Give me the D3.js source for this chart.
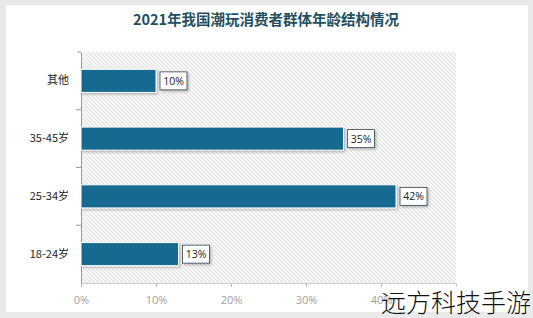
<!DOCTYPE html>
<html>
<head>
<meta charset="utf-8">
<script src="https://cdn.jsdelivr.net/npm/d3@7"></script>
<style>
  body { margin: 0; background: #e9e9e9; }
  svg { display: block; }
</style>
</head>
<body>
<div id="chart"></div>
<script>
// 数据
let categories = ['其他', '35-45岁', '25-34岁', '18-24岁'];
let values = [10, 35, 42, 13];
let xTicks = [0, 10, 20, 30, 40];

let W = 533, H = 318;
let svg = d3.select('#chart').append('svg').attr('width', W).attr('height', H);

// 背景卡片
svg.append('rect').attr('width', W).attr('height', H).attr('fill', '#e9e9e9');
svg.append('rect').attr('x', 6).attr('y', 5).attr('width', 522).attr('height', 307).attr('fill', '#ffffff');

// 斜线底纹
let defs = svg.append('defs');
let pat = defs.append('pattern').attr('id', 'hatch')
    .attr('patternUnits', 'userSpaceOnUse').attr('width', 4).attr('height', 4);
pat.append('rect').attr('width', 4).attr('height', 4).attr('fill', '#f6f6f6');
pat.append('path').attr('d', 'M-1,-1 L5,5 M-1,3 L1,5 M3,-1 L5,1')
    .attr('stroke', '#d9d9d9').attr('stroke-width', 0.8);
let sh = defs.append('filter').attr('id', 'shadow').attr('x', '-20%').attr('y', '-20%').attr('width', '150%').attr('height', '150%');
sh.append('feDropShadow').attr('dx', 1.5).attr('dy', 1.5).attr('stdDeviation', 1).attr('flood-color', '#000').attr('flood-opacity', 0.25);

// 标题
svg.append('text').attr('x', 266).attr('y', 25).attr('text-anchor', 'middle')
    .attr('font-family', '"Noto Sans CJK SC", sans-serif').attr('font-weight', 'bold')
    .attr('font-size', 14.5).attr('fill', '#1f4f60')
    .text('2021年我国潮玩消费者群体年龄结构情况');

// 绘图区
let pL = 81, pR = 456, pT = 52, pB = 283;
let xScale = d3.scaleLinear().domain([0, 50]).range([pL, pR]);
let yScale = d3.scaleBand().domain(categories).range([pT, pB]).paddingInner(0.6).paddingOuter(0.3);
let yBand = d3.scaleBand().domain(categories).range([pT, pB]);

svg.append('rect').attr('x', pL).attr('y', pT).attr('width', pR - pL).attr('height', pB - pT)
    .attr('fill', 'url(#hatch)');

// x轴
let xAxis = svg.append('g').attr('transform', 'translate(0,' + pB + ')')
    .call(d3.axisBottom(xScale).tickValues(xTicks).tickSize(4).tickFormat(d => d + '%'));
xAxis.select('.domain').attr('stroke', '#cccccc');
xAxis.selectAll('.tick line').attr('stroke', '#bbbbbb');
xAxis.selectAll('.tick text').attr('fill', '#a0a0a0').attr('font-size', 11)
    .attr('font-family', '"Open Sans", sans-serif').attr('dy', '1.25em');

// y轴
let yAxis = svg.append('g').attr('transform', 'translate(' + pL + ',0)')
    .call(d3.axisLeft(yScale).tickSize(0).tickPadding(12));
yAxis.select('.domain').attr('stroke', '#999999');
yAxis.selectAll('.tick text').attr('fill', '#222').attr('font-size', 11)
    .attr('font-family', '"Noto Sans CJK SC", sans-serif');
// 分类边界刻度
svg.append('g').selectAll('line').data(categories.slice(1)).enter().append('line')
    .attr('x1', pL - 5).attr('x2', pL)
    .attr('y1', d => yBand(d)).attr('y2', d => yBand(d))
    .attr('stroke', '#999999');
svg.append('line').attr('x1', pL - 4).attr('x2', pL).attr('y1', pT).attr('y2', pT).attr('stroke', '#999');

// 条形
let bars = svg.append('g').selectAll('g').data(categories).enter().append('g');
bars.append('rect')
    .attr('x', pL)
    .attr('y', d => yScale(d))
    .attr('width', (d, i) => xScale(values[i]) - pL)
    .attr('height', yScale.bandwidth())
    .attr('fill', '#17698f')
    .attr('stroke', '#ffffff').attr('stroke-width', 1)
    .attr('filter', 'url(#shadow)');

// 数值标签
bars.append('rect')
    .attr('x', (d, i) => xScale(values[i]) + 4)
    .attr('y', d => yScale(d) + yScale.bandwidth() / 2 - 9)
    .attr('width', 27).attr('height', 18)
    .attr('fill', '#ffffff').attr('stroke', '#2c4650').attr('stroke-width', 0.8)
    .attr('filter', 'url(#shadow)');
bars.append('text')
    .attr('x', (d, i) => xScale(values[i]) + 17.5)
    .attr('y', d => yScale(d) + yScale.bandwidth() / 2 + 4)
    .attr('text-anchor', 'middle')
    .attr('font-size', 10.5).attr('font-family', '"Open Sans", sans-serif').attr('fill', '#222')
    .text((d, i) => values[i] + '%');

// 水印
svg.append('text').attr('x', 531).attr('y', 312).attr('text-anchor', 'end')
    .attr('font-family', '"Noto Sans CJK SC", sans-serif').attr('font-weight', 300)
    .attr('font-size', 25).attr('fill', '#111')
    .text('远方科技手游');
</script>
</body>
</html>
